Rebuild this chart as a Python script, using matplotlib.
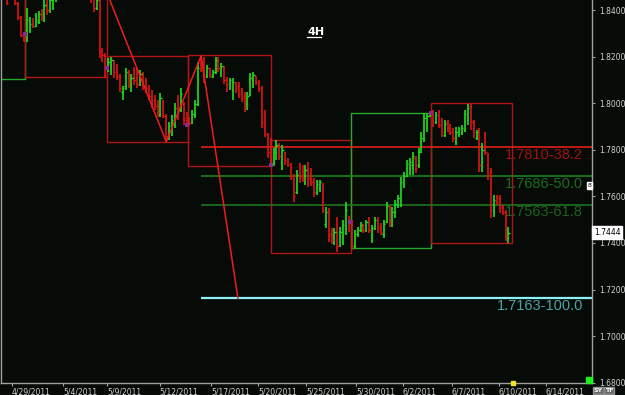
import matplotlib
matplotlib.use("Agg")
import matplotlib.pyplot as plt
import matplotlib.transforms as mtransforms
from matplotlib.lines import Line2D
from matplotlib.patches import Rectangle

BG = "#070b07"
UP = "#1fe01f"
DOWN = "#e01414"
AXIS = "#a0a0a0"

# 4H OHLC bars, one entry per bar
opens = [
    1.8494, 1.8469, 1.8456, 1.8477, 1.8456, 1.8430, 1.8370, 1.8293, 1.8280, 1.8314,
    1.8340, 1.8331, 1.8349, 1.8383, 1.8370, 1.8422, 1.8400, 1.8443, 1.8460, 1.8486,
    1.8512, 1.8537, 1.8529, 1.8550, 1.8572, 1.8555, 1.8537, 1.8563, 1.8580, 1.8572,
    1.8546, 1.8460, 1.8409, 1.8443, 1.8229, 1.8207, 1.8151, 1.8164, 1.8186, 1.8134,
    1.8117, 1.8048, 1.8074, 1.8134, 1.8083, 1.8108, 1.8108, 1.8083, 1.8126, 1.8074,
    1.8066, 1.8031, 1.8014, 1.7988, 1.7954, 1.8014, 1.7945, 1.7860, 1.7894, 1.7920,
    1.7980, 1.7971, 1.7997, 1.7937, 1.7920, 1.7915, 1.7950, 1.7997, 1.8151, 1.8177,
    1.8117, 1.8151, 1.8117, 1.8134, 1.8186, 1.8151, 1.8151, 1.8108, 1.8074, 1.8057,
    1.8091, 1.8074, 1.8048, 1.8031, 1.7980, 1.8035, 1.8100, 1.8117, 1.8091, 1.8066,
    1.7928, 1.7868, 1.7791, 1.7744, 1.7791, 1.7821, 1.7748, 1.7791, 1.7757, 1.7739,
    1.7688, 1.7619, 1.7692, 1.7688, 1.7662, 1.7714, 1.7688, 1.7662, 1.7619, 1.7636,
    1.7654, 1.7482, 1.7534, 1.7439, 1.7405, 1.7448, 1.7392, 1.7405, 1.7465, 1.7516,
    1.7491, 1.7388, 1.7439, 1.7456, 1.7478, 1.7456, 1.7508, 1.7413, 1.7465, 1.7499,
    1.7473, 1.7439, 1.7491, 1.7559, 1.7478, 1.7534, 1.7563, 1.7563, 1.7654, 1.7688,
    1.7722, 1.7735, 1.7765, 1.7735, 1.7791, 1.7842, 1.7907, 1.7945, 1.7954, 1.7920,
    1.7963, 1.7907, 1.7864, 1.7920, 1.7898, 1.7885, 1.7834, 1.7868, 1.7877, 1.7885,
    1.7937, 1.7988, 1.7920, 1.7851, 1.7885, 1.7714, 1.7860, 1.7778, 1.7705, 1.7534,
    1.7602, 1.7594, 1.7559, 1.7534, 1.7422,
]
highs = [
    1.8507, 1.8469, 1.8486, 1.8503, 1.8460, 1.8434, 1.8374, 1.8301, 1.8409, 1.8370,
    1.8366, 1.8387, 1.8396, 1.8404, 1.8443, 1.8452, 1.8460, 1.8477, 1.8494, 1.8529,
    1.8550, 1.8572, 1.8563, 1.8593, 1.8597, 1.8589, 1.8572, 1.8606, 1.8615, 1.8597,
    1.8563, 1.8469, 1.8452, 1.8452, 1.8237, 1.8216, 1.8194, 1.8198, 1.8186, 1.8168,
    1.8126, 1.8074, 1.8151, 1.8143, 1.8126, 1.8156, 1.8151, 1.8143, 1.8134, 1.8108,
    1.8078, 1.8057, 1.8035, 1.8014, 1.8044, 1.8014, 1.7954, 1.7920, 1.7950, 1.8001,
    1.8035, 1.8066, 1.8005, 1.7963, 1.7941, 1.7971, 1.8014, 1.8177, 1.8203, 1.8198,
    1.8164, 1.8151, 1.8143, 1.8198, 1.8198, 1.8173, 1.8160, 1.8113, 1.8108, 1.8108,
    1.8091, 1.8091, 1.8066, 1.8048, 1.8048, 1.8130, 1.8134, 1.8117, 1.8100, 1.8074,
    1.7971, 1.7872, 1.7851, 1.7808, 1.7842, 1.7830, 1.7821, 1.7791, 1.7765, 1.7744,
    1.7697, 1.7714, 1.7744, 1.7735, 1.7735, 1.7748, 1.7722, 1.7679, 1.7671, 1.7671,
    1.7658, 1.7555, 1.7551, 1.7465, 1.7465, 1.7512, 1.7469, 1.7499, 1.7576, 1.7516,
    1.7499, 1.7456, 1.7469, 1.7491, 1.7482, 1.7499, 1.7512, 1.7478, 1.7512, 1.7512,
    1.7486, 1.7499, 1.7576, 1.7563, 1.7555, 1.7585, 1.7606, 1.7684, 1.7705, 1.7757,
    1.7765, 1.7791, 1.7774, 1.7808, 1.7877, 1.7958, 1.7958, 1.7963, 1.7971, 1.7963,
    1.7971, 1.7937, 1.7928, 1.7928, 1.7911, 1.7894, 1.7898, 1.7898, 1.7907, 1.7971,
    1.7997, 1.7997, 1.7928, 1.7885, 1.7894, 1.7830, 1.7877, 1.7787, 1.7722, 1.7606,
    1.7606, 1.7606, 1.7563, 1.7542, 1.7469,
]
lows = [
    1.8460, 1.8422, 1.8447, 1.8452, 1.8422, 1.8357, 1.8284, 1.8263, 1.8263, 1.8301,
    1.8323, 1.8327, 1.8340, 1.8353, 1.8349, 1.8379, 1.8387, 1.8400, 1.8434, 1.8469,
    1.8494, 1.8520, 1.8503, 1.8529, 1.8546, 1.8520, 1.8512, 1.8537, 1.8550, 1.8529,
    1.8430, 1.8392, 1.8400, 1.8194, 1.8177, 1.8108, 1.8134, 1.8121, 1.8108, 1.8100,
    1.8048, 1.8014, 1.8057, 1.8066, 1.8048, 1.8078, 1.8066, 1.8074, 1.8057, 1.8044,
    1.8014, 1.7980, 1.7971, 1.7941, 1.7941, 1.7937, 1.7834, 1.7842, 1.7860, 1.7894,
    1.7928, 1.7963, 1.7907, 1.7898, 1.7902, 1.7911, 1.7937, 1.7988, 1.8134, 1.8087,
    1.8108, 1.8108, 1.8108, 1.8126, 1.8134, 1.8113, 1.8083, 1.8048, 1.8057, 1.8014,
    1.8044, 1.8023, 1.8005, 1.7963, 1.7971, 1.8031, 1.8066, 1.8078, 1.8048, 1.7894,
    1.7855, 1.7765, 1.7727, 1.7731, 1.7757, 1.7757, 1.7714, 1.7735, 1.7727, 1.7671,
    1.7576, 1.7611, 1.7658, 1.7662, 1.7649, 1.7641, 1.7645, 1.7598, 1.7606, 1.7619,
    1.7529, 1.7465, 1.7405, 1.7396, 1.7392, 1.7362, 1.7383, 1.7392, 1.7435, 1.7448,
    1.7370, 1.7379, 1.7426, 1.7448, 1.7443, 1.7448, 1.7443, 1.7401, 1.7456, 1.7443,
    1.7435, 1.7422, 1.7486, 1.7469, 1.7469, 1.7508, 1.7551, 1.7555, 1.7636, 1.7684,
    1.7692, 1.7692, 1.7701, 1.7722, 1.7787, 1.7834, 1.7877, 1.7941, 1.7898, 1.7911,
    1.7894, 1.7855, 1.7855, 1.7877, 1.7864, 1.7834, 1.7821, 1.7855, 1.7864, 1.7877,
    1.7907, 1.7885, 1.7851, 1.7842, 1.7705, 1.7705, 1.7778, 1.7671, 1.7508, 1.7512,
    1.7563, 1.7529, 1.7521, 1.7409, 1.7401,
]
closes = [
    1.8469, 1.8430, 1.8477, 1.8464, 1.8430, 1.8370, 1.8293, 1.8280, 1.8357, 1.8340,
    1.8331, 1.8357, 1.8383, 1.8370, 1.8422, 1.8400, 1.8443, 1.8460, 1.8486, 1.8512,
    1.8537, 1.8529, 1.8550, 1.8572, 1.8555, 1.8537, 1.8563, 1.8580, 1.8572, 1.8546,
    1.8452, 1.8409, 1.8443, 1.8229, 1.8207, 1.8151, 1.8177, 1.8186, 1.8134, 1.8117,
    1.8066, 1.8066, 1.8134, 1.8091, 1.8108, 1.8100, 1.8083, 1.8126, 1.8074, 1.8066,
    1.8031, 1.7997, 1.7988, 1.7963, 1.8023, 1.7945, 1.7860, 1.7902, 1.7928, 1.7980,
    1.7963, 1.8040, 1.7928, 1.7911, 1.7915, 1.7954, 1.7997, 1.8151, 1.8143, 1.8117,
    1.8151, 1.8126, 1.8134, 1.8186, 1.8151, 1.8160, 1.8100, 1.8083, 1.8100, 1.8091,
    1.8066, 1.8040, 1.8023, 1.7980, 1.8031, 1.8108, 1.8121, 1.8091, 1.8066, 1.7920,
    1.7868, 1.7791, 1.7744, 1.7791, 1.7821, 1.7774, 1.7800, 1.7757, 1.7739, 1.7688,
    1.7602, 1.7692, 1.7679, 1.7671, 1.7714, 1.7679, 1.7662, 1.7619, 1.7654, 1.7662,
    1.7542, 1.7534, 1.7431, 1.7413, 1.7448, 1.7388, 1.7448, 1.7478, 1.7542, 1.7491,
    1.7396, 1.7439, 1.7456, 1.7478, 1.7456, 1.7491, 1.7456, 1.7465, 1.7499, 1.7465,
    1.7448, 1.7482, 1.7559, 1.7491, 1.7534, 1.7568, 1.7594, 1.7662, 1.7688, 1.7739,
    1.7748, 1.7774, 1.7722, 1.7791, 1.7851, 1.7937, 1.7945, 1.7954, 1.7920, 1.7950,
    1.7907, 1.7877, 1.7911, 1.7894, 1.7877, 1.7851, 1.7877, 1.7890, 1.7894, 1.7954,
    1.7980, 1.7920, 1.7877, 1.7877, 1.7735, 1.7800, 1.7791, 1.7692, 1.7542, 1.7585,
    1.7576, 1.7551, 1.7534, 1.7431, 1.7444,
]

date_ticks = [2.8, 20.4, 35.7, 53.7, 71.4, 87.6, 104.3, 121.4, 137.6, 154.5, 170.7, 186.9]
date_labels = ["4/29/2011", "5/4/2011", "5/9/2011", "5/12/2011", "5/17/2011", "5/20/2011",
               "5/25/2011", "5/30/2011", "6/2/2011", "6/7/2011", "6/10/2011", "6/14/2011"]
price_ticks = [1.68, 1.70, 1.72, 1.74, 1.76, 1.78, 1.80, 1.82, 1.84]

# range boxes
box_start = [-10, 7.3, 35.5, 63.5, 92.0, 119.6, 147.3]
box_end = [7.3, 35.5, 63.5, 92.0, 119.6, 147.3, 175.2]
box_low = [1.8104, 1.8113, 1.7834, 1.7731, 1.7355, 1.7379, 1.7401]
box_high = [1.8700, 1.8700, 1.8201, 1.8207, 1.7842, 1.7960, 1.7999]
box_up = [True, False, False, False, False, True, False]

# zigzag swing points
swing_bars = [31, 56, 68, 80.7]
swing_prices = [1.8615, 1.7834, 1.8203, 1.7163]

fib_start = 68
fib_levels = [1.7810, 1.7686, 1.7563, 1.7163]
fib_labels = ["1.7810-38.2", "1.7686-50.0", "1.7563-61.8", "1.7163-100.0"]

marker_bars = [7.3, 35.6, 63.2, 92.1, 119.4, 147.3]
marker_prices = [1.8297, 1.8151, 1.7907, 1.7735, 1.7491, 1.7958]

last_price = 1.7444
next_bar = 175.5

W, H = 625, 395
fig = plt.figure(figsize=(W / 100, H / 100), dpi=100, facecolor=BG)
ax = fig.add_axes([1 / W, 12 / H, 591 / W, 383 / H], facecolor=BG)
ax.set_xlim(-1, 202.8)
ax.set_ylim(1.6799, 1.8443)

# boxes
for s, e, lo, hi, up in zip(box_start, box_end, box_low, box_high, box_up):
    ax.add_patch(Rectangle((s, lo), e - s, hi - lo, fill=False,
                           edgecolor="#2aa82a" if up else "#b01515", lw=1.0, zorder=1))

# fib levels
fib_line_colors = ["#ee2020", "#1f8a1f", "#1f7a1f", "#8ff0f5"]
fib_text_colors = ["#a01212", "#1d6a1d", "#1d621d", "#4aa2aa"]
blend = mtransforms.blended_transform_factory(ax.transAxes, ax.transData)
for lvl, lab, lc, tc in zip(fib_levels, fib_labels, fib_line_colors, fib_text_colors):
    ax.hlines(lvl, fib_start, 210, colors=lc, lw=1.6 if lc == "#8ff0f5" else 1.1, zorder=2)
    ax.text(0.985, lvl - 0.0002, lab, transform=blend, ha="right", va="top",
            fontsize=10.5, color=tc, family="Liberation Sans", zorder=2)

# OHLC bars
xs = list(range(len(opens)))
cols = [UP if c >= o else DOWN for o, c in zip(opens, closes)]
ax.vlines(xs, lows, highs, colors=cols, lw=1.2, zorder=3)
ax.hlines(opens, [x - 0.45 for x in xs], xs, colors=cols, lw=1.0, zorder=3)
ax.hlines(closes, xs, [x + 0.45 for x in xs], colors=cols, lw=1.0, zorder=3)

# zigzag
ax.plot(swing_bars, swing_prices, color="#ee1c1c", lw=1.1, zorder=4)

ax.scatter(marker_bars, marker_prices, marker="s", s=7, color="#8a2a90", zorder=5, linewidths=0)

# axes styling
ax.spines["top"].set_visible(False)
for side in ["left", "right", "bottom"]:
    ax.spines[side].set_color(AXIS)
    ax.spines[side].set_linewidth(1.0)
ax.yaxis.tick_right()
ax.set_yticks(price_ticks, [f"{p:.4f}" for p in price_ticks])
ax.set_xticks(date_ticks, date_labels)
for lbl in ax.get_xticklabels():
    lbl.set_ha("left")
ax.tick_params(axis="both", colors=AXIS, labelcolor="#d0d0d0", labelsize=5.5, length=2.5, width=0.8)
ax.tick_params(axis="y", pad=3)
ax.tick_params(axis="x", pad=0.5)

# last price tag
ax.text(1.003, last_price, f"{last_price:.4f}", transform=blend, ha="left", va="center",
        fontsize=5.5, color="black",
        bbox=dict(boxstyle="square,pad=0.25", facecolor="white", edgecolor="white"))

# next-bar marker on the time axis
ax.plot([next_bar], [0], marker="s", ms=3, color="#f0e030", clip_on=False, zorder=6,
        transform=mtransforms.blended_transform_factory(ax.transData, ax.transAxes))

# title
fig.text(307 / W, 1 - 35 / H, "4H", color="white", fontsize=8, fontweight="bold")
fig.add_artist(Line2D([307 / W, 321 / W], [1 - 36.5 / H] * 2, transform=fig.transFigure,
                      color="white", lw=0.9))

# small widgets
fig.text(589.5 / W, 1 - 185.5 / H, "8", fontsize=4.5, color="black", ha="center", va="center",
         bbox=dict(boxstyle="square,pad=0.15", facecolor="white", edgecolor="white"))
fig.add_artist(Rectangle((586 / W, 1 - 383 / H), 6 / W, 6 / H, transform=fig.transFigure,
                         color="#20f020"))
fig.text(598.5 / W, 1 - 390.5 / H, "SY", fontsize=4.5, color="white", ha="center", va="center",
         fontweight="bold", bbox=dict(boxstyle="square,pad=0.1", facecolor="#6a6a6a", edgecolor="#909090"))
fig.text(609 / W, 1 - 390.5 / H, "TF", fontsize=4.5, color="white", ha="center", va="center",
         fontweight="bold", bbox=dict(boxstyle="square,pad=0.1", facecolor="#6a6a6a", edgecolor="#909090"))

fig.savefig("out.png", dpi=100, facecolor=BG)
